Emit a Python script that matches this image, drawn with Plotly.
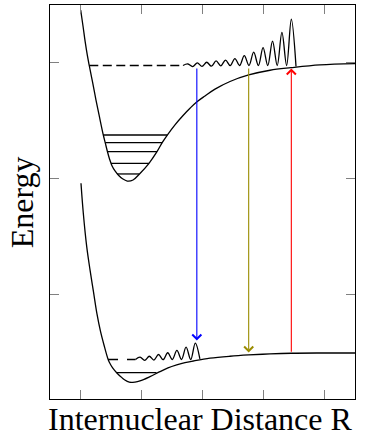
import plotly.graph_objects as go

# ---------------- data ----------------
x_ticks = [1, 2, 3, 4, 5]
y_ticks = [1, 2, 3]
x_label = "Internuclear Distance R"
y_label = "Energy"

# excited-state potential
upper_R = [1.003, 1.041, 1.077, 1.111, 1.144, 1.197, 1.254, 1.311, 1.374, 1.407,
           1.441, 1.477, 1.516, 1.566, 1.623, 1.689, 1.767, 1.861, 1.967, 2.123,
           2.254, 2.339, 2.423, 2.549, 2.685, 2.795, 2.905, 3.041, 3.205, 3.451,
           3.757, 4.107, 4.451, 4.926, 5.5]
upper_E = [3.457, 3.319, 3.181, 3.069, 2.976, 2.836, 2.680, 2.534, 2.378, 2.308,
           2.236, 2.169, 2.113, 2.068, 2.031, 2.000, 1.981, 1.990, 2.042, 2.134,
           2.234, 2.312, 2.378, 2.466, 2.549, 2.609, 2.663, 2.715, 2.774, 2.840,
           2.896, 2.937, 2.959, 2.983, 2.994]

# ground-state potential
lower_R = [1.008, 1.046, 1.102, 1.156, 1.213, 1.270, 1.328, 1.385, 1.456, 1.492,
           1.533, 1.593, 1.656, 1.721, 1.800, 1.893, 1.975, 2.139, 2.303, 2.434,
           2.577, 2.713, 2.849, 3.123, 3.451, 3.757, 4.107, 4.456, 4.926, 5.5]
lower_E = [1.962, 1.703, 1.415, 1.214, 1.024, 0.834, 0.683, 0.566, 0.437, 0.398,
           0.364, 0.327, 0.295, 0.266, 0.245, 0.246, 0.256, 0.293, 0.336, 0.368,
           0.394, 0.414, 0.428, 0.452, 0.469, 0.480, 0.489, 0.495, 0.497, 0.497]

# vibrational levels
upper_levels_E = [2.378, 2.312, 2.234, 2.134, 2.042]
upper_levels_Rmin = [1.374, 1.405, 1.438, 1.500, 1.600]
upper_levels_Rmax = [2.423, 2.339, 2.254, 2.123, 1.962]
lower_levels_E = [0.327]
lower_levels_Rmin = [1.593]
lower_levels_Rmax = [2.246]

# dashed reference levels
upper_dash_R = [1.144, 2.680]
upper_dash_E = [2.978, 2.978]
lower_dash_R = [1.451, 1.902]
lower_dash_E = [0.441, 0.441]

# wave packet on excited state (troughs and peaks)
upper_wave_R = [2.680, 2.761, 2.838, 2.915, 2.992, 3.069, 3.146, 3.223, 3.300, 3.377,
                3.454, 3.531, 3.608, 3.685, 3.762, 3.839, 3.916, 3.993, 4.070, 4.148,
                4.225, 4.302, 4.379, 4.456, 4.533]
upper_wave_E = [2.978, 2.991, 2.968, 3.000, 2.970, 3.006, 2.972, 3.017, 2.975, 3.025,
                2.977, 3.038, 2.978, 3.063, 2.978, 3.093, 2.978, 3.132, 2.978, 3.189,
                2.978, 3.263, 2.978, 3.377, 2.970]

# wave packet on ground state
lower_wave_R = [1.902, 1.977, 2.052, 2.128, 2.203, 2.279, 2.354, 2.430, 2.505, 2.580,
                2.656, 2.731, 2.807, 2.882, 2.957]
lower_wave_E = [0.441, 0.461, 0.433, 0.469, 0.436, 0.484, 0.439, 0.499, 0.441, 0.519,
                0.441, 0.547, 0.441, 0.583, 0.446]

# transitions: R position, start energy, end energy
arrow_R = [2.907, 3.757, 4.456]
arrow_from = [2.965, 2.965, 0.495]
arrow_to = [0.605, 0.502, 2.952]

# ---------------- styling ----------------
arrow_colors = ["#0000ff", "#9a8c00", "#ff0000"]
FONT = "Liberation Serif, DejaVu Serif, serif"
LW = 1.3


def segments(rmin, rmax, e):
    xs, ys = [], []
    for a, b, v in zip(rmin, rmax, e):
        xs += [a, b, None]
        ys += [v, v, None]
    return xs, ys


fig = go.Figure()

line = dict(color="black", width=LW)
smooth = dict(color="black", width=LW, shape="spline", smoothing=1)
fig.add_trace(go.Scatter(x=upper_R, y=upper_E, mode="lines", line=smooth))
fig.add_trace(go.Scatter(x=lower_R, y=lower_E, mode="lines", line=smooth))

ux, uy = segments(upper_levels_Rmin, upper_levels_Rmax, upper_levels_E)
fig.add_trace(go.Scatter(x=ux, y=uy, mode="lines", line=line))
lx, ly = segments(lower_levels_Rmin, lower_levels_Rmax, lower_levels_E)
fig.add_trace(go.Scatter(x=lx, y=ly, mode="lines", line=line))

fig.add_trace(go.Scatter(x=upper_dash_R, y=upper_dash_E, mode="lines",
                         line=dict(color="black", width=LW, dash="9px,4.5px")))
fig.add_trace(go.Scatter(x=lower_dash_R, y=lower_dash_E, mode="lines",
                         line=dict(color="black", width=LW, dash="10px,9px")))

fig.add_trace(go.Scatter(x=upper_wave_R, y=upper_wave_E, mode="lines", line=smooth))
fig.add_trace(go.Scatter(x=lower_wave_R, y=lower_wave_E, mode="lines", line=smooth))

for r, e0, e1, c in zip(arrow_R, arrow_from, arrow_to, arrow_colors):
    fig.add_annotation(x=r, y=e1, ax=r, ay=e0, xref="x", yref="y",
                       axref="x", ayref="y", text="", showarrow=True,
                       arrowhead=4, arrowsize=1.6, arrowwidth=1.1, arrowcolor=c,
                       standoff=0)

# axis labels
fig.add_annotation(text=x_label, xref="paper", yref="paper", x=0.495, y=-0.05,
                   xanchor="center", yanchor="middle", showarrow=False, borderpad=0,
                   font=dict(family=FONT, size=32, color="black"))
fig.add_annotation(text=y_label, xref="paper", yref="paper", x=-0.091, y=0.5,
                   xanchor="center", yanchor="middle", showarrow=False, borderpad=0,
                   textangle=-90, font=dict(family=FONT, size=32, color="black"))

axis_common = dict(showgrid=False, zeroline=False, showline=True, mirror="ticks",
                   linecolor="black", linewidth=1, ticks="inside", ticklen=9,
                   tickwidth=1, tickcolor="#808080", showticklabels=False)

fig.update_xaxes(range=[0.5, 5.5], tickvals=x_ticks, **axis_common)
fig.update_yaxes(range=[0.1, 3.5], tickvals=y_ticks, **axis_common)

fig.update_layout(width=366, height=436, showlegend=False,
                  margin=dict(l=50, r=11, t=5, b=37, autoexpand=False),
                  paper_bgcolor="white", plot_bgcolor="white",
                  font=dict(family=FONT, color="black"))

fig.write_html("out.html")
